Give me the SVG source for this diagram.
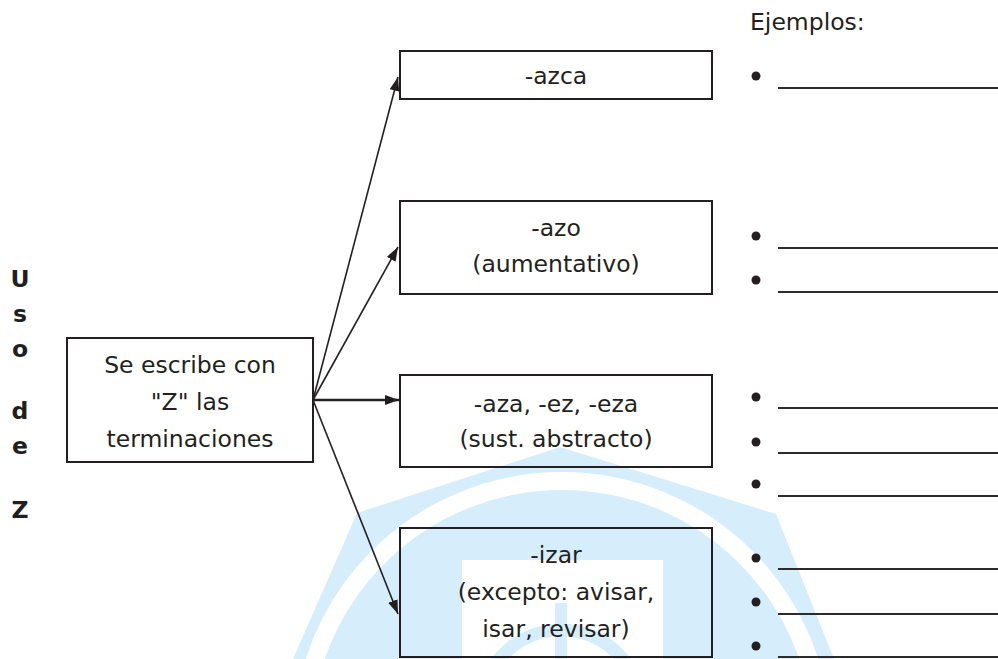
<svg xmlns="http://www.w3.org/2000/svg" width="998" height="659" viewBox="0 0 998 659">
<defs>
<style>
.t{font-family:"DejaVu Sans","Liberation Sans",sans-serif;font-size:23.5px;fill:#231f20;text-anchor:middle}
.side{font-family:"DejaVu Sans","Liberation Sans",sans-serif;font-size:23.5px;font-weight:bold;fill:#231f20;text-anchor:middle}
.box{fill:none;stroke:#231f20;stroke-width:2}
.con{fill:none;stroke:#231f20;stroke-width:1.6}
.wm{fill:#d6eefc}
.blank{stroke:#2b2b2b;stroke-width:2}
.dot{fill:#231f20}
</style>
<marker id="ah" markerWidth="14" markerHeight="10" refX="14" refY="5" orient="auto" markerUnits="userSpaceOnUse">
<path d="M0,0 L14,5 L0,10 z" fill="#231f20"/>
</marker>
</defs>
<rect width="998" height="659" fill="#ffffff"/>
<g id="watermark">
<polygon class="wm" points="293,659 357,513 560,447 776,514 834,659"/>
<circle cx="562" cy="741" r="269" fill="#ffffff"/>
<circle class="wm" cx="562" cy="741" r="251"/>
<rect x="462" y="560" width="201" height="100" fill="#ffffff"/>
<circle cx="561" cy="710" r="80" fill="none" stroke="#d6eefc" stroke-width="13"/>
<rect class="wm" x="555" y="603" width="12" height="60"/>
</g>
<g id="side-label">
<text class="side" x="20" y="287">U</text>
<text class="side" x="20" y="322">s</text>
<text class="side" x="20" y="357">o</text>
<text class="side" x="20" y="419">d</text>
<text class="side" x="20" y="454">e</text>
<text class="side" x="20" y="518">Z</text>
</g>
<g id="connectors">
<path class="con" d="M313,400 L398,77" marker-end="url(#ah)"/>
<path class="con" d="M313,400 L398,247" marker-end="url(#ah)"/>
<path class="con" d="M313,400 L399,400" marker-end="url(#ah)" style="stroke-width:2.4"/>
<path class="con" d="M313,400 L398,614" marker-end="url(#ah)"/>
</g>
<g id="node-main">
<rect class="box" x="67" y="338" width="246" height="124"/>
<text class="t" x="190" y="373">Se escribe con</text>
<text class="t" x="190" y="410">"Z" las</text>
<text class="t" x="190" y="447">terminaciones</text>
</g>
<g id="node-azca">
<rect class="box" x="400" y="51" width="312" height="48"/>
<text class="t" x="556" y="84">-azca</text>
</g>
<g id="node-azo">
<rect class="box" x="400" y="201" width="312" height="93"/>
<text class="t" x="556" y="236">-azo</text>
<text class="t" x="556" y="272">(aumentativo)</text>
</g>
<g id="node-aza">
<rect class="box" x="400" y="375" width="312" height="92"/>
<text class="t" x="556" y="412">-aza, -ez, -eza</text>
<text class="t" x="556" y="447">(sust. abstracto)</text>
</g>
<g id="node-izar">
<rect class="box" x="400" y="528" width="312" height="129"/>
<text class="t" x="556" y="563">-izar</text>
<text class="t" x="556" y="600">(excepto: avisar,</text>
<text class="t" x="556" y="637">isar, revisar)</text>
</g>
<g id="examples">
<text class="t" x="750" y="30" style="text-anchor:start">Ejemplos:</text>
<circle class="dot" cx="756" cy="76" r="4.5"/>
<line class="blank" x1="778" y1="88" x2="998" y2="88"/>
<circle class="dot" cx="756" cy="236" r="4.5"/>
<line class="blank" x1="778" y1="248" x2="998" y2="248"/>
<circle class="dot" cx="756" cy="280" r="4.5"/>
<line class="blank" x1="778" y1="292" x2="998" y2="292"/>
<circle class="dot" cx="756" cy="397" r="4.5"/>
<line class="blank" x1="778" y1="408" x2="998" y2="408"/>
<circle class="dot" cx="756" cy="442" r="4.5"/>
<line class="blank" x1="778" y1="453" x2="998" y2="453"/>
<circle class="dot" cx="756" cy="484" r="4.5"/>
<line class="blank" x1="778" y1="496" x2="998" y2="496"/>
<circle class="dot" cx="756" cy="558" r="4.5"/>
<line class="blank" x1="778" y1="569" x2="998" y2="569"/>
<circle class="dot" cx="756" cy="602" r="4.5"/>
<line class="blank" x1="778" y1="614" x2="998" y2="614"/>
<circle class="dot" cx="756" cy="646" r="4.5"/>
<line class="blank" x1="778" y1="657" x2="998" y2="657"/>
</g>
</svg>
